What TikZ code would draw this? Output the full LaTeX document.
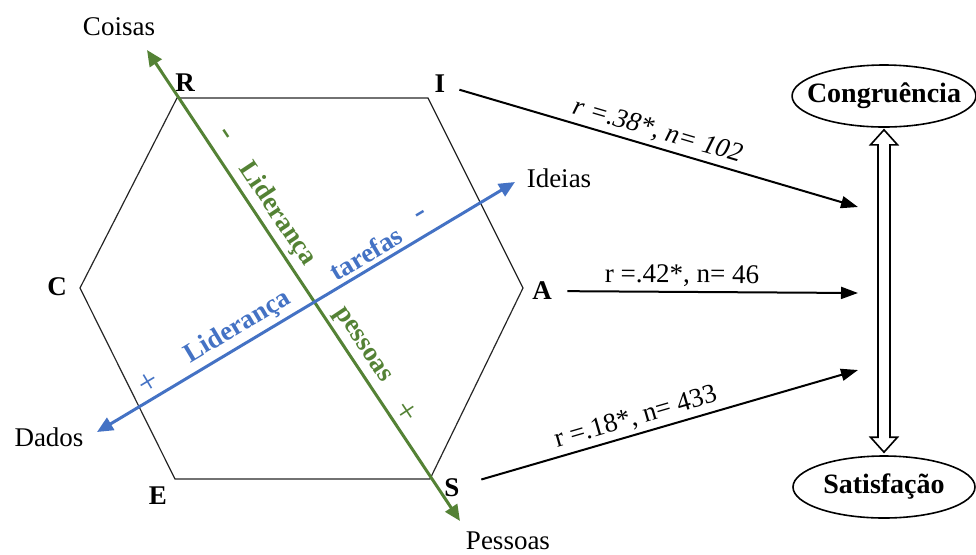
\documentclass[tikz,border=0pt]{standalone}
\usepackage{fontspec}
\setmainfont{Liberation Serif}
\usetikzlibrary{arrows.meta,positioning,calc,shapes.geometric}
\definecolor{peoplegreen}{HTML}{548235}
\definecolor{taskblue}{HTML}{4472C4}
\tikzset{
  holland/.style={font=\fontsize{13.5}{16}\selectfont, line width=.6pt},
  corner/.style={font=\fontsize{13.5}{16}\selectfont\bfseries, inner sep=1pt},
  pole/.style={inner sep=1pt},
  axisline/.style={line width=1.5pt,
    {Triangle[length=8pt,width=7pt]}-{Triangle[length=8pt,width=7pt]}},
  axistext/.style={font=\fontsize{13.5}{16}\selectfont\bfseries,
    sloped, inner sep=0pt},
  sign/.style={font=\fontsize{17}{18}\selectfont, sloped, inner sep=0pt},
  link/.style={->, line width=1pt, >={Triangle[length=8.5pt,width=6pt]}},
  linklabel/.style={sloped, above=2pt, inner sep=0pt},
  outcome/.style={ellipse, draw, line width=.8pt, minimum width=91pt,
    minimum height=31pt, inner xsep=-6pt, inner ysep=2pt,
    font=\fontsize{14}{16}\selectfont\bfseries},
  hollow/.style={draw, fill=white, line width=.8pt, line join=miter},
}

\begin{document}
\begin{tikzpicture}[holland,x=.5pt,y=-.5pt]
  % Page is 976 x 554 units, origin top left.
  \useasboundingbox (0,0) rectangle (976,554);

  % ---------------- hexagon ----------------
  \coordinate (R) at (177,98);
  \coordinate (I) at (428,98);
  \coordinate (A) at (523,288);
  \coordinate (S) at (430,479);
  \coordinate (E) at (175,479);
  \coordinate (C) at (80,288);
  \draw[black!85] (R) -- (I) -- (A) -- (S) -- (E) -- (C) -- cycle;

  \node[corner] (labR) at (185,83) {R};
  \node[corner] (labI) at (440,84) {I};
  \node[corner] (labA) at (542,291) {A};
  \node[corner] (labC) at (57,287) {C};
  \node[corner] (labE) at (158,496) {E};
  \node[corner] (labS) at (452,488) {S};

  % ---------------- the two axes ----------------
  \node[pole] (coisas) at (119,27) {Coisas};
  \node[pole] (pessoas) at (508,541) {Pessoas};
  \node[pole] (ideias) at (559,178) {Ideias};
  \node[pole] (dados) at (49,437) {Dados};
  \coordinate (coisasTip) at (147,50);
  \coordinate (pessoasTip) at (460,521);
  \coordinate (ideiasTip) at (515,182);
  \coordinate (dadosTip) at (97,432);

  % people axis, text on its upper right side
  \draw[axisline,draw=peoplegreen,fill=peoplegreen] (coisasTip) -- (pessoasTip)
    node[sign,text=peoplegreen,pos=.2,above=5pt] (pminus) {-}
    node[axistext,text=peoplegreen,pos=.369,above=2pt] (plead) {Liderança}
    node[axistext,text=peoplegreen,pos=.646,above=2pt] (ppeople) {pessoas}
    node[sign,text=peoplegreen,pos=.786,above=2pt] (pplus) {+};

  % task axis, text above it
  \draw[axisline,draw=taskblue,fill=taskblue] (dadosTip) -- (ideiasTip)
    node[sign,text=taskblue,pos=.143,above=2pt] (tplus) {+}
    node[axistext,text=taskblue,pos=.359,above=2pt] (tlead) {Liderança}
    node[axistext,text=taskblue,pos=.662,above=2pt] (ttask) {tarefas}
    node[sign,text=taskblue,pos=.80,above=6pt] (tminus) {-};

  % ---------------- outcomes ----------------
  \node[outcome] (cong) at (884,96) {Congruência};
  \node[outcome] (sat) at (884,487) {Satisfação};

  \coordinate (congIn) at (858,207);
  \coordinate (midIn) at (858,293);
  \coordinate (satIn) at (858,370);
  \draw[link,shorten <=6pt] (labI) -- (congIn)
    node[linklabel,midway,font=\fontsize{13.5}{16}\selectfont\itshape]
    (rI) {r =.38*, n= 102};
  \draw[link,shorten <=6.5pt] (labA) -- (midIn)
    node[linklabel,pos=.42] (rA) {r =.42*, n= 46};
  \draw[link,shorten <=10pt] (labS) -- (satIn)
    node[linklabel,pos=.45] (rS) {r =.18*, n= 433};

  % hollow two-headed arrow between the ellipses
  \path (cong.south) ++(0,2) coordinate (upTip);
  \path (sat.north) ++(0,-3) coordinate (downTip);
  \draw[hollow] let \p1=(upTip), \p2=(downTip) in
    (\x1,\y1) -- (\x1+6.75pt,\y1-7.5pt) -- (\x1+3pt,\y1-7.5pt)
    -- (\x1+3pt,\y2+7.5pt) -- (\x1+6.75pt,\y2+7.5pt) -- (\x2,\y2)
    -- (\x1-6.75pt,\y2+7.5pt) -- (\x1-3pt,\y2+7.5pt)
    -- (\x1-3pt,\y1-7.5pt) -- (\x1-6.75pt,\y1-7.5pt) -- cycle;
\end{tikzpicture}
\end{document}
